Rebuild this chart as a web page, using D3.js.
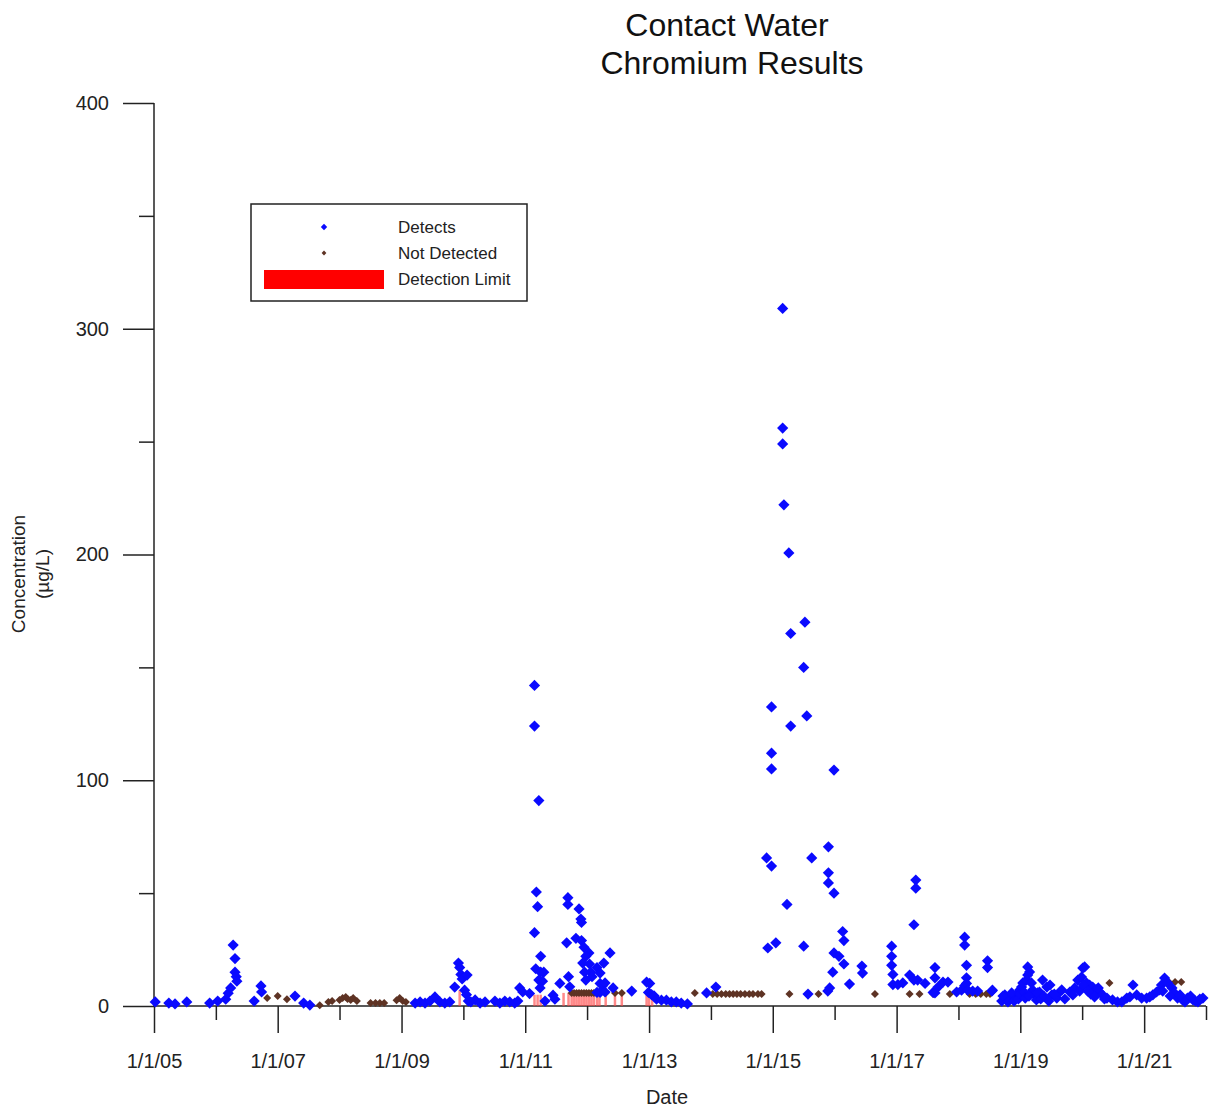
<!DOCTYPE html>
<html>
<head>
<meta charset="utf-8">
<script src="https://cdn.jsdelivr.net/npm/d3@7"></script>
<style>
  html, body { margin: 0; padding: 0; background: #ffffff; }
  svg { display: block; font-family: "Liberation Sans", Arial, Helvetica, sans-serif; }
</style>
</head>
<body>
<svg id="chart" width="1211" height="1109"></svg>
<script>
// ---------------- DATA (decimal year, concentration µg/L) ----------------
const titleLines = ["Contact Water", "Chromium Results"];
const xLabel = "Date";
const yLabelLines = ["Concentration", "(\u00b5g/L)"];
const yMajorTicks = [0, 100, 200, 300, 400];
const yMinorTicks = [50, 150, 250, 350];
const xMajorYears = [2005, 2007, 2009, 2011, 2013, 2015, 2017, 2019, 2021];
const xMinorYears = [2006, 2008, 2010, 2012, 2014, 2016, 2018, 2020, 2022];
const legendLabels = ["Detects", "Not Detected", "Detection Limit"];

const detects = [
  [2005.02,1.8],[2005.24,1.3],[2005.34,0.9],[2005.53,1.8],[2005.90,1.3],[2006.03,2.2],
  [2006.16,3.0],[2006.20,5.7],[2006.24,8.0],[2006.28,27],[2006.31,21],[2006.31,15],
  [2006.33,13],[2006.34,11],[2006.62,2.2],[2006.73,8.9],[2006.74,6.2],[2007.28,4.4],
  [2007.42,1.3],[2007.52,0.4],
  [2009.22,1.3],[2009.30,1.8],[2009.38,1.3],[2009.46,2.2],[2009.54,4.0],[2009.62,1.8],
  [2009.70,1.3],[2009.78,1.8],[2009.86,8.4],[2009.92,19],[2009.94,17],[2009.96,14],
  [2009.98,12],[2010.06,13.7],[2010.02,7],[2010.05,5],[2010.08,2.2],[2010.12,1.8],
  [2010.19,2.7],[2010.27,1.3],[2010.35,1.8],[2010.51,2.2],[2010.59,1.3],[2010.67,2.2],
  [2010.75,1.8],[2010.83,1.3],[2010.88,2.2],[2010.91,8],[2010.96,6.2],[2011.07,5.5],
  [2011.15,142],[2011.15,124],[2011.22,91],[2011.18,50.5],[2011.20,44],[2011.15,32.5],
  [2011.25,22],[2011.17,16.5],[2011.25,15],[2011.30,15],[2011.22,11.5],[2011.28,11],
  [2011.24,8],[2011.32,2.2],[2011.45,4.8],[2011.48,3],[2011.56,10],[2011.69,48],
  [2011.69,45],[2011.67,28],[2011.70,13],[2011.72,8.5],[2011.87,43],[2011.90,38.5],
  [2011.91,37],[2011.82,30],[2011.91,29],[2011.95,26],[2012.03,23.5],[2011.98,22],
  [2011.93,19],[2012.04,18.6],[2012.06,15],[2012.08,13],[2011.96,15],[2011.98,11.5],
  [2012.16,17],[2012.21,14.6],[2012.27,19],[2012.37,23.5],[2012.21,10],[2012.25,9],
  [2012.16,6],[2012.21,6],[2012.42,8],[2012.72,6.6],[2012.29,10.2],[2012.29,6.2],
  [2012.96,10.6],[2013.01,10],[2012.99,6],[2013.04,5],[2013.08,4.5],[2013.12,3],
  [2013.20,2.6],[2013.28,2.6],[2013.36,1.8],[2013.44,1.8],[2013.52,1.3],[2013.62,0.9],
  [2013.93,5.8],[2014.08,8.4],
  [2014.92,25.7],[2014.90,65.6],[2014.98,62],[2014.98,132.5],[2014.98,112],[2014.98,105],
  [2015.05,28],[2015.16,309],[2015.16,256],[2015.16,249],[2015.18,222],[2015.26,200.7],
  [2015.29,165],[2015.29,124],[2015.23,45],[2015.52,170],[2015.50,150],[2015.55,128.5],
  [2015.63,65.6],[2015.50,26.5],[2015.57,5.3],[2015.89,6.6],[2015.90,70.5],[2015.90,59],
  [2015.90,54.5],[2015.99,104.5],[2015.99,50],[2016.13,33],[2016.15,29],[2015.99,23.5],
  [2016.07,22],[2016.15,18.6],[2015.97,15],[2015.92,8],[2016.24,9.7],[2016.44,17.7],
  [2016.45,14.6],
  [2016.92,26.5],[2016.92,22],[2016.92,18],[2016.94,14],[2016.94,9.5],[2017.02,9.5],
  [2017.10,10.2],[2017.21,13.7],[2017.28,11.5],[2017.31,55.8],[2017.31,52.2],[2017.28,36],
  [2017.34,11.5],[2017.46,10],[2017.59,6],[2017.62,5.8],[2017.62,17],[2017.62,12.5],
  [2017.67,8.4],[2017.75,10.6],[2017.83,10.6],[2017.97,6.2],[2018.05,7],[2018.10,9],
  [2018.10,30.5],[2018.10,27],[2018.13,18],[2018.13,12.5],[2018.13,10],[2018.15,7],
  [2018.23,6.6],[2018.31,6.6],[2018.47,20],[2018.47,17],[2018.54,6.6],[2018.55,7],
  [2018.75,4.9],[2018.78,2.7],[2018.83,4.0],[2018.88,3.5],[2018.94,4.9],[2018.99,7.1],
  [2019.02,8.4],[2019.04,10.2],[2019.10,11.5],[2019.12,13.7],[2019.12,17.3],[2019.15,15.1],
  [2019.18,10.2],[2019.20,7.1],[2019.23,4.9],[2019.26,2.7],[2019.31,6.2],[2019.36,11.5],
  [2019.43,8.4],[2019.48,9.3],[2019.51,4.9],[2019.59,3.5],[2019.64,6.2],[2019.67,7.1],
  [2019.80,6.2],[2019.88,8.0],[2019.93,11.5],[2019.99,12.8],[2020.01,16.8],[2020.04,17.3],
  [2020.07,10.2],[2020.12,9.3],[2020.17,8.4],[2020.23,7.1],[2020.28,6.2],[2020.33,4.9],
  [2020.40,3.5],[2020.49,2.7],[2020.57,1.8],[2020.64,1.8],[2020.72,3.5],[2020.77,4.0],
  [2020.82,9.3],[2020.88,4.9],[2020.96,3.5],[2021.04,3.5],[2021.09,4.0],[2021.14,4.9],
  [2021.20,6.2],[2021.25,7.1],[2021.28,9.3],[2021.33,12.4],[2021.38,10.2],[2021.45,8.0],
  [2021.49,5.8],[2021.54,3.5],[2021.62,2.7],[2021.70,3.5],[2021.79,2.7],[2021.87,1.8],
  [2021.95,3.5],
  [2018.70,2.2],[2018.72,4.4],[2018.80,1.8],[2018.86,5.8],[2018.90,2.2],[2018.97,3.1],
  [2019.00,5.3],[2019.06,6.2],[2019.08,3.5],[2019.14,4.4],[2019.28,5.8],[2019.33,3.1],
  [2019.38,4.4],[2019.46,2.2],[2019.55,5.3],[2019.72,3.1],[2019.85,4.9],[2019.96,6.6],
  [2020.02,9.3],[2020.09,6.6],[2020.14,5.3],[2020.20,4.0],[2020.26,8.0],[2020.36,3.1],
  [2021.30,6.6],[2021.42,4.4],[2021.58,4.9],[2021.66,1.8],[2021.75,4.4],[2021.83,2.2],
  [2021.90,3.1]
];

const notDetected = [
  [2006.83,3.5],[2007.00,4.4],[2007.15,3.0],[2007.68,0.3],[2007.82,1.8],[2007.88,2.2],
  [2008.00,2.7],[2008.05,3.5],[2008.10,4.0],[2008.13,3.1],[2008.18,2.7],[2008.22,3.5],
  [2008.28,2.2],[2008.50,1.3],[2008.58,1.3],[2008.65,1.3],[2008.72,1.3],[2008.92,2.6],
  [2008.97,3.5],[2009.02,2.2],[2009.07,1.8],
  [2011.75,5.8],[2011.79,5.8],[2011.83,5.8],[2011.87,5.8],[2011.91,5.8],[2011.95,5.8],
  [2011.99,5.8],[2012.03,5.8],[2012.07,5.8],[2012.11,5.8],[2012.16,5.8],[2012.20,5.8],
  [2012.30,5.8],[2012.45,5.8],[2012.56,5.8],
  [2013.74,5.8],[2014.03,5.3],[2014.10,5.3],[2014.17,5.3],[2014.24,5.3],[2014.30,5.3],
  [2014.36,5.3],[2014.42,5.3],[2014.48,5.3],[2014.55,5.3],[2014.62,5.3],[2014.68,5.3],
  [2014.76,5.3],[2014.82,5.3],
  [2015.27,5.3],[2015.74,5.3],[2016.65,5.3],[2017.21,5.3],[2017.37,5.3],[2017.59,5.3],
  [2017.86,5.3],[2018.18,5.3],[2018.28,5.3],[2018.36,5.3],[2018.45,5.3],[2018.51,5.3],
  [2020.44,10.2],[2021.40,10.6],[2021.50,10.6],[2021.60,10.6]
];

const detectionLimits = [
  [2009.94,7],[2011.15,5],[2011.20,5],[2011.25,5],[2011.62,5.8],[2011.70,5.8],
  [2011.75,5.8],[2011.79,5.8],[2011.83,5.8],[2011.87,5.8],[2011.91,5.8],[2011.95,5.8],
  [2011.99,5.8],[2012.03,5.8],[2012.07,5.8],[2012.11,5.8],[2012.16,5.8],[2012.20,5.8],
  [2012.30,5.8],[2012.45,5.8],[2012.56,5.8],[2012.96,5],[2013.00,5],[2013.05,5]
];

// ---------------- HELPERS ----------------
function decYearToDate(v) {
  const yr = Math.floor(v);
  const s = new Date(yr, 0, 1), e = new Date(yr + 1, 0, 1);
  return new Date(+s + (v - yr) * (e - s));
}
function diamond(h) { return `M0,${-h}L${h},0L0,${h}L${-h},0Z`; }

// ---------------- CHART ----------------
(function draw() {
  const svg = d3.select("#chart");
  const pLeft = 154, pRight = 1206, pTop = 103, pBottom = 1006;

  const x = d3.scaleTime()
    .domain([new Date(2005, 0, 1), new Date(2022, 0, 1)])
    .range([pLeft, pRight]);
  const y = d3.scaleLinear().domain([0, 400]).range([pBottom, pTop]);

  const axisColor = "#222";

  // title
  svg.append("g").selectAll("text").data(titleLines).join("text")
    .attr("x", (d, i) => i === 0 ? 727 : 732)
    .attr("y", (d, i) => 36 + i * 38)
    .attr("text-anchor", "middle")
    .attr("font-size", 32)
    .attr("fill", "#111")
    .text(d => d);

  // y axis (major)
  const gy = svg.append("g").attr("transform", `translate(${pLeft},0)`)
    .call(d3.axisLeft(y).tickValues(yMajorTicks).tickSize(31).tickPadding(14)
      .tickFormat(d3.format("d")));
  gy.select(".domain").remove();
  gy.selectAll(".tick line").attr("stroke", axisColor).attr("stroke-width", 1.5);
  gy.selectAll(".tick text").attr("font-size", 20).attr("fill", "#222")
    .attr("font-family", "Liberation Sans, Arial, sans-serif");
  // y minor
  const gym = svg.append("g").attr("transform", `translate(${pLeft},0)`)
    .call(d3.axisLeft(y).tickValues(yMinorTicks).tickSize(15).tickFormat(""));
  gym.select(".domain").remove();
  gym.selectAll(".tick line").attr("stroke", axisColor).attr("stroke-width", 1.5);

  // y axis line
  svg.append("line").attr("x1", pLeft).attr("x2", pLeft).attr("y1", y(400)).attr("y2", pBottom)
    .attr("stroke", axisColor).attr("stroke-width", 1.5);

  // x axis major
  const fmt = d3.timeFormat("%-m/%-d/%y");
  const gx = svg.append("g").attr("transform", `translate(0,${pBottom})`)
    .call(d3.axisBottom(x).tickValues(xMajorYears.map(v => new Date(v, 0, 1)))
      .tickSize(27).tickPadding(21).tickFormat(fmt));
  gx.select(".domain").remove();
  gx.selectAll(".tick line").attr("stroke", axisColor).attr("stroke-width", 1.5);
  gx.selectAll(".tick text").attr("font-size", 20).attr("fill", "#222")
    .attr("font-family", "Liberation Sans, Arial, sans-serif");
  // x minor
  const gxm = svg.append("g").attr("transform", `translate(0,${pBottom})`)
    .call(d3.axisBottom(x).tickValues(xMinorYears.map(v => new Date(v, 0, 1)))
      .tickSize(14).tickFormat(""));
  gxm.select(".domain").remove();
  gxm.selectAll(".tick line").attr("stroke", axisColor).attr("stroke-width", 1.5);

  // x axis line
  svg.append("line").attr("x1", pLeft).attr("x2", pRight).attr("y1", pBottom).attr("y2", pBottom)
    .attr("stroke", axisColor).attr("stroke-width", 1.5);

  // axis titles
  svg.append("text").attr("x", 667).attr("y", 1104).attr("text-anchor", "middle")
    .attr("font-size", 20).attr("fill", "#222").text(xLabel);
  svg.append("g").selectAll("text").data(yLabelLines).join("text")
    .attr("transform", (d, i) => `translate(${25 + i * 24},574) rotate(-90)`)
    .attr("text-anchor", "middle")
    .attr("font-size", 19).attr("fill", "#222").text(d => d);

  // detection limit lines
  svg.append("g").selectAll("line").data(detectionLimits).join("line")
    .attr("x1", d => x(decYearToDate(d[0]))).attr("x2", d => x(decYearToDate(d[0])))
    .attr("y1", y(0)).attr("y2", d => y(d[1]))
    .attr("stroke", "#ff4a4a").attr("stroke-opacity", 0.65).attr("stroke-width", 2.5);

  // not detected
  svg.append("g").selectAll("path").data(notDetected).join("path")
    .attr("transform", d => `translate(${x(decYearToDate(d[0]))},${y(d[1])})`)
    .attr("d", diamond(4))
    .attr("fill", "#5e3324");

  // detects
  svg.append("g").selectAll("path").data(detects).join("path")
    .attr("transform", d => `translate(${x(decYearToDate(d[0]))},${y(d[1])})`)
    .attr("d", diamond(5.6))
    .attr("fill", "#0a0aff");

  // legend
  const lg = svg.append("g");
  lg.append("rect").attr("x", 251).attr("y", 204).attr("width", 276).attr("height", 97)
    .attr("fill", "#fff").attr("stroke", "#222").attr("stroke-width", 1.5);
  lg.append("path").attr("transform", "translate(324,227)").attr("d", diamond(3.2)).attr("fill", "#0a0aff");
  lg.append("path").attr("transform", "translate(324,253)").attr("d", diamond(2.4)).attr("fill", "#5e3324");
  lg.append("rect").attr("x", 264).attr("y", 270).attr("width", 120).attr("height", 19).attr("fill", "#ff0000");
  lg.selectAll("text").data(legendLabels).join("text")
    .attr("x", 398).attr("y", (d, i) => 233 + i * 26)
    .attr("font-size", 17).attr("fill", "#222").text(d => d);
})();
</script>
</body>
</html>
